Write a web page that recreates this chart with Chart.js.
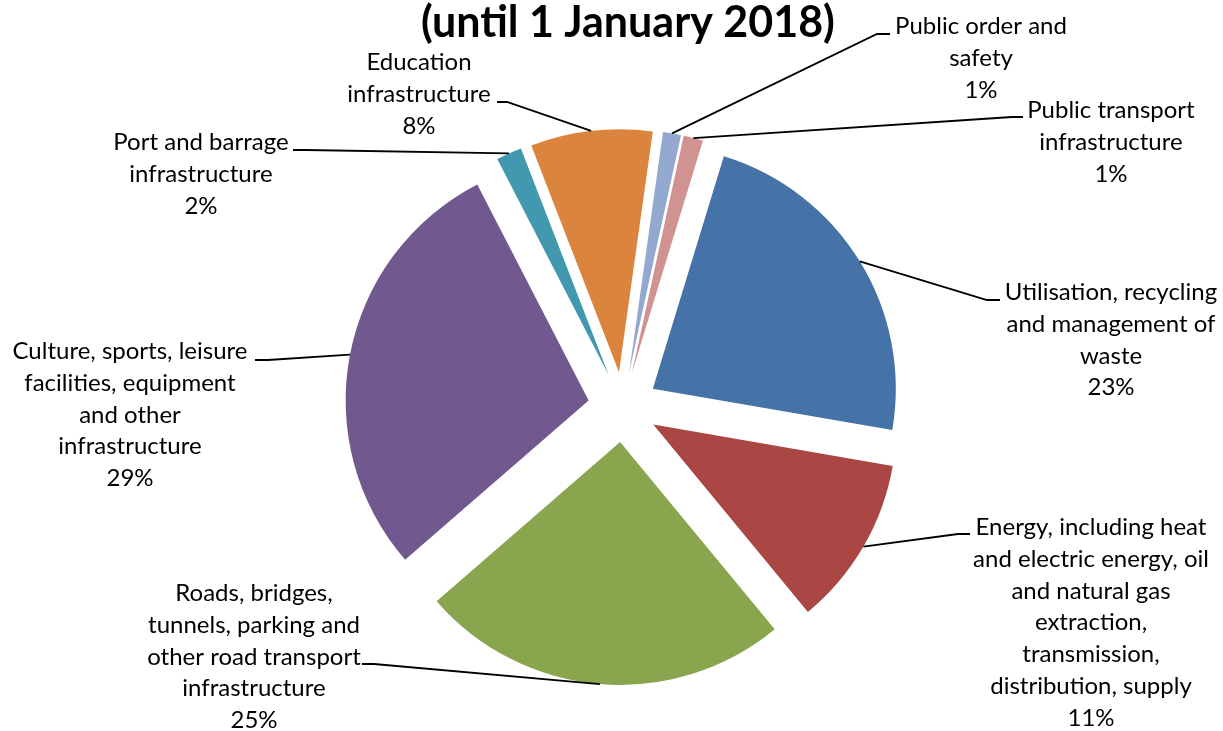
<!DOCTYPE html>
<html><head><meta charset="utf-8">
<script src="https://cdn.jsdelivr.net/npm/chart.js@4.4.0/dist/chart.umd.min.js"></script>
<style>html,body{margin:0;padding:0;background:#fff;overflow:hidden}#wrap{width:1223px;height:731px;position:relative}</style>
</head><body><div id="wrap"><canvas id="c"></canvas></div>
<script>
const titleText = "(until 1 January 2018)";
const categories = [
  "Utilisation, recycling and management of waste",
  "Energy, including heat and electric energy, oil and natural gas extraction, transmission, distribution, supply",
  "Roads, bridges, tunnels, parking and other road transport infrastructure",
  "Culture, sports, leisure facilities, equipment and other infrastructure",
  "Port and barrage infrastructure",
  "Education infrastructure",
  "Public order and safety",
  "Public transport infrastructure"
];
const labelLines = [
  ["Utilisation, recycling", "and management of", "waste"],
  ["Energy, including heat", "and electric energy, oil", "and natural gas", "extraction,", "transmission,", "distribution, supply"],
  ["Roads, bridges,", "tunnels, parking and", "other road transport", "infrastructure"],
  ["Culture, sports, leisure", "facilities, equipment", "and other", "infrastructure"],
  ["Port and barrage", "infrastructure"],
  ["Education", "infrastructure"],
  ["Public order and", "safety"],
  ["Public transport", "infrastructure"]
];
const shares = [23.0, 11.3, 24.6, 28.8, 1.7, 8.1, 1.2, 1.3];
const colors = ["#4572A7", "#AA4643", "#89A54E", "#71588F", "#4198AF", "#DB843D", "#93A9CF", "#D19392"];

// label layout (style): centre x, first baseline, leader end at label, bend point
const labelLayout = [
  {x: 1111, y: 300, end: [1000, 300], bend: [987, 300]},
  {x: 1091, y: 535, end: [970, 534], bend: [958, 534]},
  {x: 254, y: 601, end: [362, 664], bend: [374, 664]},
  {x: 130, y: 359, end: [255, 360], bend: [268, 360]},
  {x: 201, y: 150, end: [293, 150], bend: [306, 150]},
  {x: 419, y: 70, end: [497, 102], bend: [507, 102]},
  {x: 981, y: 34, end: [890, 34], bend: [877, 34]},
  {x: 1111, y: 118, end: [1023, 117], bend: [1012, 117]}
];
const FONT = "Lato, 'Open Sans', sans-serif";
const LABEL_SIZE = 24;
const LINE_H = 31.8;
const EXPLODE = 35;

const explodePlugin = {
  id: 'explode',
  afterDatasetsUpdate(chart) {
    const a = chart.chartArea;
    const cx = (a.left + a.right) / 2, cy = (a.top + a.bottom) / 2;
    chart.getDatasetMeta(0).data.forEach(el => {
      const mid = (el.startAngle + el.endAngle) / 2;
      el.x = cx + EXPLODE * Math.cos(mid);
      el.y = cy + EXPLODE * Math.sin(mid);
    });
  }
};

const labelPlugin = {
  id: 'pieLabels',
  afterDatasetsDraw(chart) {
    const ctx = chart.ctx;
    const meta = chart.getDatasetMeta(0);
    const data = chart.data.datasets[0].data;
    const total = data.reduce((s, v) => s + v, 0);
    ctx.save();
    ctx.fillStyle = '#000';
    ctx.font = "bold 43px " + FONT;
    ctx.textAlign = 'center';
    ctx.textBaseline = 'alphabetic';
    ctx.fillText(titleText, 628, 37);
    meta.data.forEach((el, i) => {
      const L = labelLayout[i];
      const mid = (el.startAngle + el.endAngle) / 2;
      const ax = el.x + el.outerRadius * Math.cos(mid);
      const ay = el.y + el.outerRadius * Math.sin(mid);
      ctx.strokeStyle = '#000';
      ctx.lineWidth = 1.8;
      ctx.beginPath();
      ctx.moveTo(ax, ay);
      ctx.lineTo(L.bend[0], L.bend[1]);
      ctx.lineTo(L.end[0], L.end[1]);
      ctx.stroke();
      const lines = labelLines[i].concat([Math.round(data[i] / total * 100) + "%"]);
      ctx.font = LABEL_SIZE + "px " + FONT;
      ctx.fillStyle = '#000';
      lines.forEach((t, k) => ctx.fillText(t, L.x, L.y + k * LINE_H));
    });
    ctx.restore();
  }
};

new Chart(document.getElementById('c'), {
  type: 'pie',
  data: {
    labels: categories,
    datasets: [{
      data: shares,
      backgroundColor: colors,
      borderWidth: 0
    }]
  },
  options: {
    responsive: true,
    maintainAspectRatio: false,
    animation: false,
    rotation: 17,
    radius: 243,
    layout: {padding: {left: 23, right: 0, top: 83, bottom: 0}},
    plugins: {legend: {display: false}, tooltip: {enabled: false}, title: {display: false}}
  },
  plugins: [explodePlugin, labelPlugin]
});
</script>
</body></html>
